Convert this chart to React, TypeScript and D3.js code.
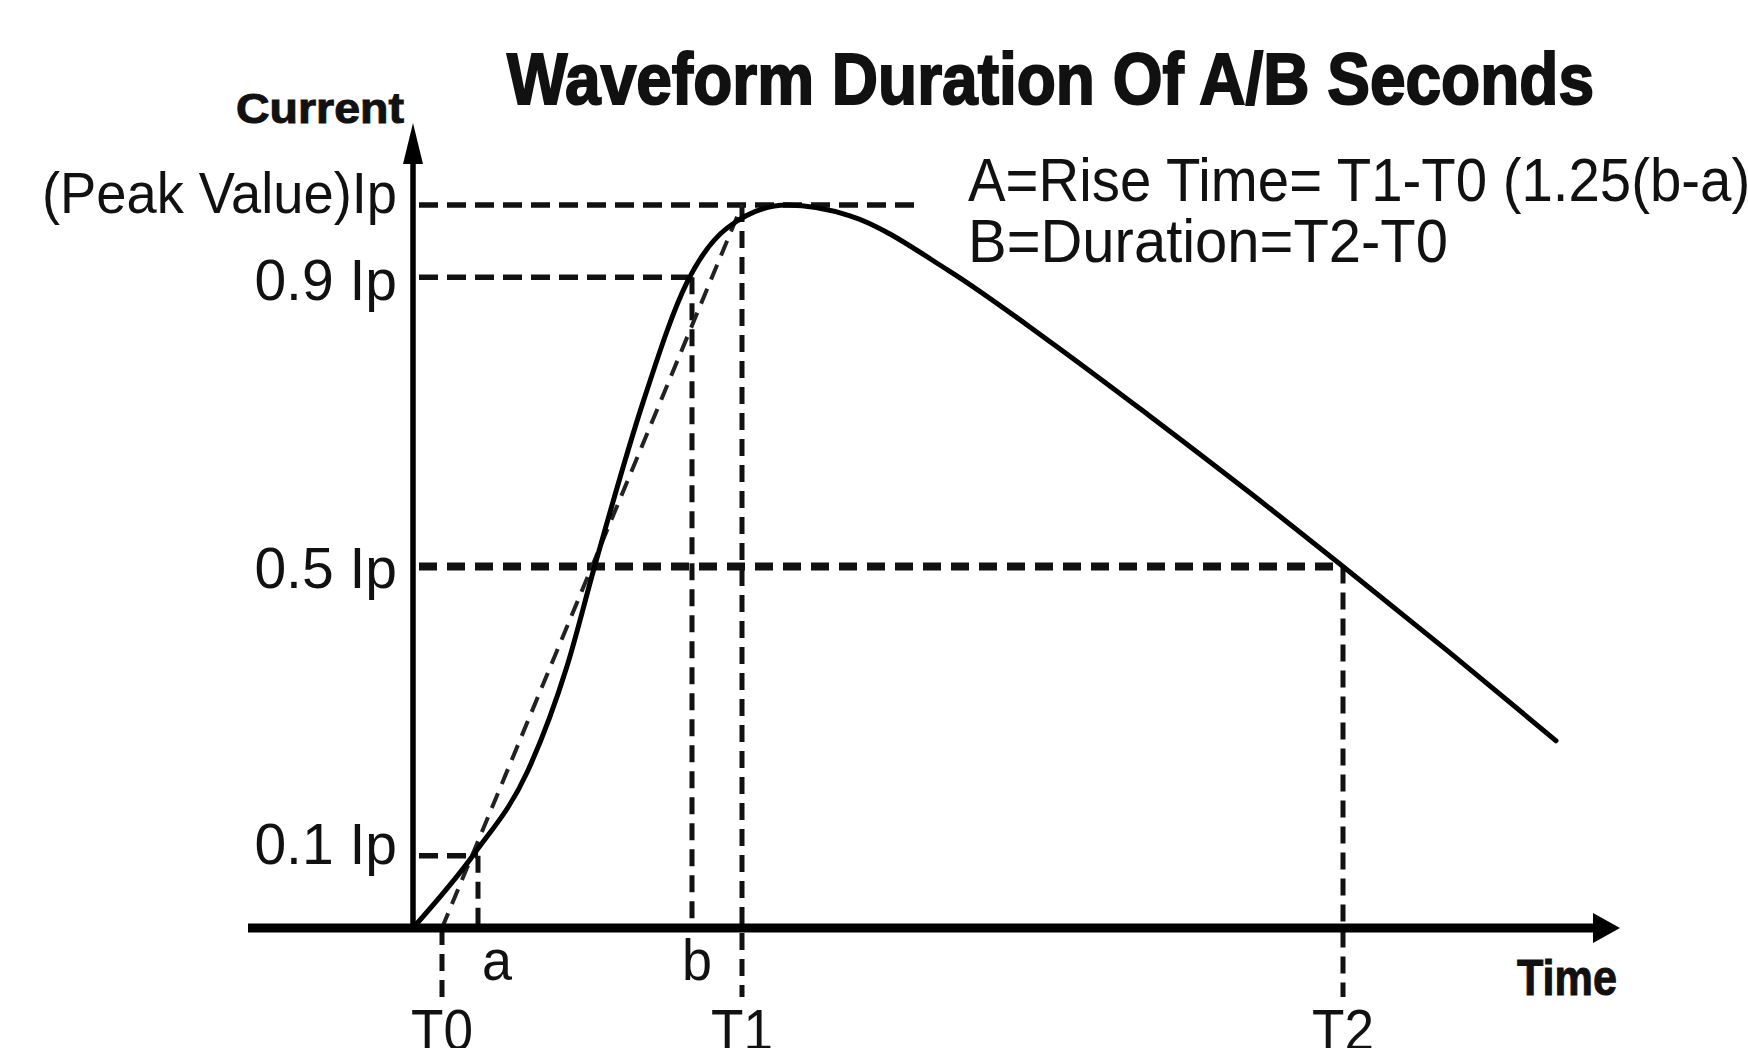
import React from "react";
import * as d3 from "d3";

// ---- data ----
const titleText = "Waveform Duration Of A/B Seconds";
const yAxisTitle = "Current";
const xAxisTitle = "Time";
const annotationLines = ["A=Rise Time= T1-T0 (1.25(b-a))", "B=Duration=T2-T0"];

const levelValues = [1, 0.9, 0.5, 0.1];
const levelLabels = ["(Peak Value)Ip", "0.9 Ip", "0.5 Ip", "0.1 Ip"];
const levelLineEnds = [50.9, 27.5, 93.0, 6.5];

const markerNames = ["T0", "a", "b", "T1", "T2"];
const markerTimes = [2.9, 6.5, 27.9, 32.9, 93.0];
const markerTopLevels = [0, 0.1, 0.9, 1.0, 0.5];
const markerBelowAxis = [true, false, false, true, true];

const waveT = [0, 6.2, 11.4, 15.4, 18.2, 23.0, 27.4, 31.4, 37.4, 43.7, 53.6, 63.6, 73.5, 83.5, 93.0, 103.4, 114.3];
const waveI = [0, 0.104, 0.215, 0.362, 0.502, 0.727, 0.893, 0.968, 1.0, 0.985, 0.909, 0.812, 0.71, 0.604, 0.5, 0.384, 0.259];

const riseLineT = [2.9, 32.9];
const riseLineI = [0, 1.0];

// ---- layout ----
const W = 1748;
const H = 1048;
const X0 = 413;
const Y0 = 928;
const YTOP = 205;

export default function App() {
  const x = d3.scaleLinear().domain([0, 120]).range([X0, X0 + 1200]);
  const y = d3.scaleLinear().domain([0, 1]).range([Y0, YTOP]);

  const line = d3
    .line<number>()
    .x((_, i) => x(waveT[i]))
    .y((_, i) => y(waveI[i]))
    .curve(d3.curveMonotoneX);
  const wavePath = line(waveT) || "";

  const riseLine = d3
    .line<number>()
    .x((_, i) => x(riseLineT[i]))
    .y((_, i) => y(riseLineI[i]));
  const risePath = riseLine(riseLineT) || "";

  const labelBaselineOffsets = [8, 23, 21, 8];
  const belowY = Y0 + 69;
  const font = "'Liberation Sans', Arial, Helvetica, sans-serif";

  return (
    <svg
      width={W}
      height={H}
      viewBox={`0 0 ${W} ${H}`}
      style={{ position: "absolute", left: 0, top: 0, background: "#fff" }}
    >
      <rect x={0} y={0} width={W} height={H} fill="#fff" />

      {/* title */}
      <text
        x={507}
        y={104}
        fontFamily={font}
        fontWeight="bold"
        fontSize={72}
        textLength={1087}
        lengthAdjust="spacingAndGlyphs"
        fill="#111"
        stroke="#111"
        strokeWidth={2}
      >
        {titleText}
      </text>

      {/* y axis title */}
      <text
        x={236}
        y={123}
        fontFamily={font}
        fontWeight="bold"
        fontSize={42}
        textLength={168}
        lengthAdjust="spacingAndGlyphs"
        fill="#111"
        stroke="#111"
        strokeWidth={1}
      >
        {yAxisTitle}
      </text>

      {/* x axis title */}
      <text
        x={1517}
        y={995}
        fontFamily={font}
        fontWeight="bold"
        fontSize={50}
        textLength={100}
        lengthAdjust="spacingAndGlyphs"
        fill="#111"
        stroke="#111"
        strokeWidth={1}
      >
        {xAxisTitle}
      </text>

      {/* annotations */}
      {annotationLines.map((t, i) => (
        <text
          key={t}
          x={968}
          y={201 + i * 61}
          fontFamily={font}
          fontSize={61}
          textLength={i === 0 ? 801 : 480}
          lengthAdjust="spacingAndGlyphs"
          fill="#111"
        >
          {t}
        </text>
      ))}

      {/* level dashed lines */}
      {levelValues.map((v, i) => (
        <line
          key={"lv" + i}
          x1={X0 + 6}
          x2={x(levelLineEnds[i])}
          y1={y(v)}
          y2={y(v)}
          stroke="#111"
          strokeWidth={v === 0.5 ? 8 : 5.5}
          strokeDasharray={v === 0.5 ? "18 10" : "19 9"}
        />
      ))}

      {/* level labels */}
      {levelValues.map((v, i) => (
        <text
          key={"ll" + i}
          x={397}
          y={y(v) + labelBaselineOffsets[i]}
          textAnchor="end"
          fontFamily={font}
          fontSize={57}
          textLength={i === 0 ? 355 : undefined}
          lengthAdjust="spacingAndGlyphs"
          fill="#111"
        >
          {levelLabels[i]}
        </text>
      ))}

      {/* marker verticals */}
      {markerTimes.map((t, i) => (
        <line
          key={"mv" + i}
          x1={x(t)}
          x2={x(t)}
          y1={y(markerTopLevels[i])}
          y2={markerBelowAxis[i] ? belowY : Y0}
          stroke="#111"
          strokeWidth={5}
          strokeDasharray="17 9"
        />
      ))}

      {/* rise-time construction line */}
      <path d={risePath} fill="none" stroke="#222" strokeWidth={4} strokeDasharray="16 10" />

      {/* axes */}
      <line x1={248} x2={1600} y1={Y0} y2={Y0} stroke="#000" strokeWidth={9} />
      <path d={`M1593,913 L1620,${Y0} L1593,943 Z`} fill="#000" />
      <line x1={X0} x2={X0} y1={Y0 + 4} y2={150} stroke="#000" strokeWidth={5.5} />
      <path d={`M${X0 - 10},164 L${X0},123 L${X0 + 10},164 Z`} fill="#000" />

      {/* waveform */}
      <path d={wavePath} fill="none" stroke="#000" strokeWidth={5} strokeLinecap="round" strokeLinejoin="round" />

      {/* marker labels */}
      {markerNames.map((n, i) => {
        const isLower = n === "a" || n === "b";
        return (
          <text
            key={"ml" + i}
            x={x(markerTimes[i]) + (n === "a" ? 19 : n === "b" ? 5 : 0)}
            y={isLower ? 980 : 1050}
            textAnchor="middle"
            fontFamily={font}
            fontSize={58}
            textLength={isLower ? 30 : 62}
            lengthAdjust="spacingAndGlyphs"
            fill="#111"
          >
            {n}
          </text>
        );
      })}
    </svg>
  );
}
